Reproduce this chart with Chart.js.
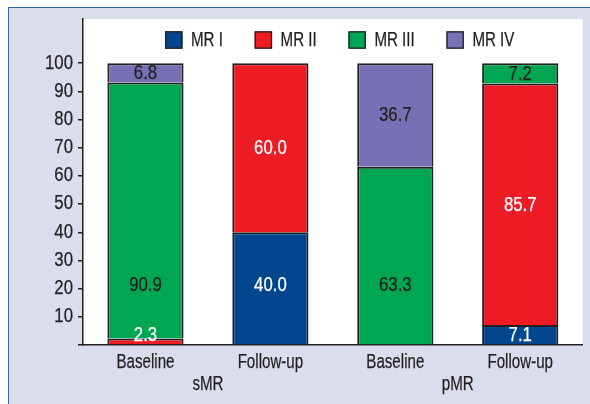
<!DOCTYPE html>
<html><head><meta charset="utf-8">
<script src="https://cdn.jsdelivr.net/npm/chart.js@4.4.1/dist/chart.umd.min.js"></script>
<style>
html,body{margin:0;padding:0;background:#fff;width:590px;height:404px;overflow:hidden}
#frame{position:absolute;left:8px;top:7px;width:620px;height:440px;background:#dadeec;border-left:1.3px solid #2f68b0;border-top:1.3px solid #2f68b0}
#wrap{position:absolute;left:0;top:0;width:590px;height:404px}
canvas{display:block}
</style></head><body>
<div id="frame"></div>
<div id="wrap"><canvas id="c" width="590" height="404"></canvas></div>
<script>
const categories = ['Baseline', 'Follow-up', 'Baseline', 'Follow-up'];
const groups = ['sMR', 'pMR'];
const seriesNames = ['MR I', 'MR II', 'MR III', 'MR IV'];
const mrI   = [0, 40.0, 0, 7.1];
const mrII  = [2.3, 60.0, 0, 85.7];
const mrIII = [90.9, 0, 63.3, 7.2];
const mrIV  = [6.8, 0, 36.7, 0];
const yTicks = [0, 10, 20, 30, 40, 50, 60, 70, 80, 90, 100];

const FONT = "'Liberation Sans', Arial, sans-serif";
const FSIZE = 19.5;
const INK = '#231f20';
const NARROW_TEXT = 0.775;   // condensed letters
const NARROW_NUM = 0.86;     // condensed figures are relatively wider
Chart.defaults.font.family = FONT;
Chart.defaults.font.size = FSIZE;
Chart.defaults.font.lineHeight = 1;
Chart.defaults.color = INK;

function narrowFactor(t) { return /^[\d.\s]+$/.test(String(t)) ? NARROW_NUM : NARROW_TEXT; }

// render canvas text horizontally condensed (Helvetica Condensed look)
const narrowText = {
  id: 'narrowText',
  afterInit(chart) {
    const ctx = chart.ctx;
    const fill = ctx.fillText, stroke = ctx.strokeText, measure = ctx.measureText;
    ctx.fillText = function (t, x, y) {
      this.save(); this.translate(x, y); this.scale(narrowFactor(t), 1);
      fill.call(this, t, 0, 0);
      this.strokeStyle = this.fillStyle; this.lineWidth = 0.25; this.setLineDash([]);
      stroke.call(this, t, 0, 0);
      this.restore();
    };
    ctx.measureText = function (t) {
      const m = measure.call(this, t);
      return { width: m.width * narrowFactor(t), actualBoundingBoxAscent: m.actualBoundingBoxAscent,
               actualBoundingBoxDescent: m.actualBoundingBoxDescent };
    };
  }
};

const plotBg = {
  id: 'plotBg',
  beforeDraw(chart) {
    const a = chart.chartArea, ctx = chart.ctx;
    ctx.save(); ctx.fillStyle = '#ffffff';
    ctx.fillRect(a.left, a.top, a.right - a.left, a.bottom - a.top);
    ctx.restore();
  }
};

const valueLabels = {
  id: 'valueLabels',
  afterDatasetsDraw(chart, args, o) {
    const ctx = chart.ctx, ys = chart.scales.y;
    ctx.save();
    ctx.font = FSIZE + 'px ' + FONT;
    ctx.textAlign = 'center'; ctx.textBaseline = 'middle';
    chart.data.datasets.forEach((ds, i) => {
      const meta = chart.getDatasetMeta(i);
      meta.data.forEach((bar, j) => {
        const v = ds.data[j];
        if (!v) return;
        const p = bar.getProps(['x', 'y', 'base'], true);
        const startVal = ys.getValueForPixel(p.base);
        const endVal = ys.getValueForPixel(p.y);
        let cy = (p.y + p.base) / 2;
        if (startVal <= o.bottomTol && endVal >= o.tallMin) cy = ys.getPixelForValue(o.rowLevel);
        cy = Math.min(cy, p.base - o.smallLift);
        ctx.fillStyle = ds.labelColor;
        ctx.fillText(v.toFixed(1), p.x, cy + 1);
      });
    });
    ctx.restore();
  }
};

const insideLegend = {
  id: 'insideLegend',
  afterDraw(chart, args, o) {
    const ctx = chart.ctx;
    ctx.save();
    ctx.font = FSIZE + 'px ' + FONT;
    ctx.textBaseline = 'middle'; ctx.textAlign = 'left';
    let x = o.x; const cy = o.y;
    chart.data.datasets.forEach(ds => {
      ctx.fillStyle = ds.backgroundColor;
      ctx.fillRect(x, cy - o.box / 2, o.box, o.box);
      ctx.lineWidth = 1.3; ctx.strokeStyle = INK;
      ctx.strokeRect(x + 0.65, cy - o.box / 2 + 0.65, o.box - 1.3, o.box - 1.3);
      ctx.fillStyle = INK;
      ctx.fillText(ds.label, x + o.box + o.textGap, cy + 1);
      x += o.box + o.textGap + ctx.measureText(ds.label).width + o.itemGap;
    });
    ctx.restore();
  }
};

const colors = ['#02478d', '#ed1c24', '#00a651', '#7671b4'];
const labelColors = ['#ffffff', '#ffffff', INK, INK];
const seriesData = [mrI, mrII, mrIII, mrIV];

new Chart(document.getElementById('c'), {
  type: 'bar',
  data: {
    labels: categories,
    datasets: seriesNames.map((n, i) => ({
      label: n,
      data: seriesData[i],
      backgroundColor: colors[i],
      borderColor: INK,
      borderWidth: 2,
      labelColor: labelColors[i],
      categoryPercentage: 1,
      barPercentage: 0.61
    }))
  },
  options: {
    responsive: false,
    animation: false,
    layout: { padding: { top: 19, right: 7.3, left: 0, bottom: 0 } },
    plugins: {
      legend: { display: false },
      tooltip: { enabled: false },
      valueLabels: { bottomTol: 3, tallMin: 35, rowLevel: 21.6, smallLift: 9.5 },
      insideLegend: { x: 165, y: 40, box: 17.5, textGap: 8.5, itemGap: 31.7 }
    },
    scales: {
      x: {
        stacked: true, offset: true, weight: 0,
        grid: { display: false },
        border: { display: true, color: INK, width: 1.5 },
        ticks: { padding: 0, color: INK, maxRotation: 0, autoSkip: false },
        afterFit: s => { s.height = 29; }
      },
      x2: {
        type: 'category', labels: groups, position: 'bottom', offset: true, weight: 1,
        grid: { display: false },
        border: { display: false },
        ticks: { padding: -7.3, color: INK, maxRotation: 0 },
        afterFit: s => { s.height = 30; }
      },
      y: {
        stacked: true, min: 0, max: 115.7,
        afterBuildTicks: s => { s.ticks = yTicks.map(v => ({ value: v })); },
        afterFit: s => { s.width = 83; },
        ticks: { padding: 5, color: INK, callback: v => (v === 0 ? '' : String(v)) },
        grid: { display: true, drawOnChartArea: false, drawTicks: true, tickLength: 5, color: INK, lineWidth: 1.5 },
        border: { display: true, color: INK, width: 1.5 }
      }
    }
  },
  plugins: [narrowText, plotBg, valueLabels, insideLegend]
});
</script>
</body></html>
